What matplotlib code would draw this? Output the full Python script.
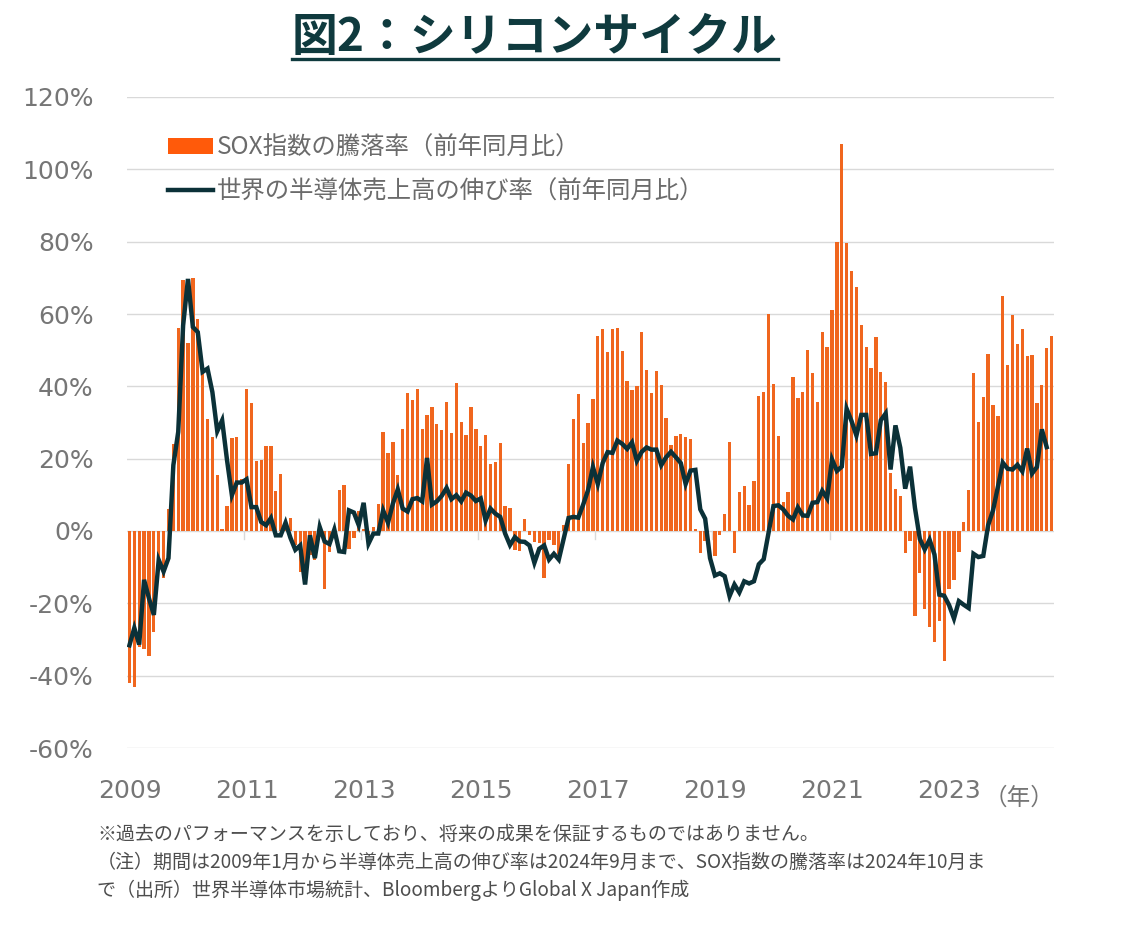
import numpy as np
import matplotlib
matplotlib.use("Agg")
import matplotlib.pyplot as plt
from matplotlib.patches import Patch
from matplotlib.lines import Line2D

plt.rcParams['font.family'] = ['Noto Sans CJK JP', 'DejaVu Sans']

# ---- data (monthly, Jan 2009 .. Oct 2024) ----
sox_yoy = [
    -42, -43, -32, -32.5, -34.5, -28, -11, -13, 6, 24, 56, 69.5,          # 2009
    52, 70, 58.7, 44, 31, 26, 15.6, 0.5, 7, 25.6, 26, 14.5,               # 2010
    39.4, 35.4, 19.4, 19.5, 23.6, 23.5, 11, 15.8, 0.6, 3.7, -4, -11.3,    # 2011
    -14, -6.7, -8, -1, -16, -5.8, 0.5, 11.2, 12.8, -5, -2, 5.5,           # 2012
    0.5, -1, 1, 7.6, 27.4, 21.7, 24.6, 15.6, 28.3, 38.2, 36.3, 39.2,      # 2013
    28.3, 32.2, 34.3, 29.7, 28, 35.7, 27.1, 40.9, 30.1, 26.5, 34.3, 28.3, # 2014
    23.4, 26.6, 18.5, 19.2, 24.4, 7, 6.3, -5.3, -5.6, 3.4, -1.2, -3,      # 2015
    -3.2, -13, -2.6, -4, -6.3, 1.6, 18.6, 31, 38, 24.4, 30, 36.6,         # 2016
    53.9, 55.8, 49.5, 55.8, 56.2, 49.7, 41.5, 38.9, 40.1, 54.9, 44.6, 38.2,  # 2017
    44.3, 40.5, 31.3, 23.8, 26.3, 26.8, 25.9, 25.5, 0.5, -6, -2.8, 0,     # 2018
    -7, -1, 4.8, 24.7, -6.2, 10.8, 12.5, 7.1, 13.9, 37.2, 38.3, 60,       # 2019
    40.6, 26.3, 8, 10.9, 42.7, 36.7, 38.3, 50.1, 43.8, 35.8, 54.9, 51,    # 2020
    61, 80, 107, 79.5, 72, 67.4, 56.9, 51, 45.2, 53.6, 44, 41.2,          # 2021
    16, 11.7, 9.7, -6, -2.7, -23.6, -11.7, -21.7, -26.5, -30.8, -25, -36, # 2022
    -16, -13.6, -5.8, 2.6, 11.4, 43.7, 30.1, 37, 49, 34.9, 31.8, 65,      # 2023
    45.9, 59.8, 51.8, 55.9, 48.3, 48.8, 35.5, 40.5, 50.6, 53.8,           # 2024 (to Oct)
]

semi_sales_yoy = [
    -31.6, -26.8, -31.4, -13.5, -18.6, -23.2, -8, -11.2, -7.5, 18.2, 27.4, 56.8,   # 2009
    69.7, 56.4, 55, 44, 44.9, 38.4, 27.6, 30.6, 19.6, 9.9, 13.4, 13.4,             # 2010
    14.3, 6.6, 6.6, 2.5, 1.6, 3.6, -1.2, -1.2, 2.3, -1.9, -5.2, -4,                # 2011
    -14.8, -1.2, -7.5, 1.1, -2.9, -3.6, 0.4, -5.6, -5.8, 5.7, 5.1, 1.6,            # 2012
    7.8, -3.5, -0.7, -0.7, 5.7, 2.3, 7.6, 11.5, 6.2, 5.4, 8.8, 9.1,                # 2013
    8.2, 20.2, 7.3, 8.2, 9.7, 11.9, 8.8, 9.9, 8.2, 10.6, 9.8, 8.3,                 # 2014
    9, 2.9, 6.2, 4.8, 3.9, -0.7, -3.9, -1.7, -2.9, -3, -4, -8.8,                   # 2015
    -4.9, -4, -7.9, -6.3, -7.9, -2.1, 3.6, 3.9, 3.7, 7.3, 11.3, 17.7,              # 2016
    13, 18.8, 21.8, 21.6, 25, 24.1, 22.7, 24.5, 19.4, 21.9, 23.1, 22.5,            # 2017
    22.5, 18.2, 20.4, 21.9, 20.4, 18.8, 13, 16.7, 16.9, 6, 3.4, -7.5,              # 2018
    -12.3, -11.7, -12.5, -18, -14.8, -17, -13.9, -14.5, -13.9, -9.2, -7.8, -0.5,   # 2019
    6.9, 7.1, 6, 4.2, 3.2, 6.5, 4.3, 4.2, 7.8, 8, 11.1, 9,                         # 2020
    19.8, 16.6, 17.8, 33.8, 30.4, 26.4, 32.1, 32.1, 21.3, 21.5, 30.6, 32.5,        # 2021
    17, 29.2, 23, 11.7, 17.8, 6.4, -2.2, -5.1, -2.4, -6.5, -17.6, -17.9,           # 2022
    -20.5, -24.2, -19.4, -20.4, -21.3, -6.3, -7.2, -6.9, 1.6, 5.7, 12.2, 18.9,     # 2023
    17.2, 17, 18.3, 16.5, 22.8, 15.9, 17.7, 28.1, 23.2,                            # 2024 (to Sep)
]

year_labels = ['2009', '2011', '2013', '2015', '2017', '2019', '2021', '2023']
y_ticks = [-60, -40, -20, 0, 20, 40, 60, 80, 100, 120]

legend_labels = ['SOX指数の騰落率（前年同月比）', '世界の半導体売上高の伸び率（前年同月比）']
title_text = '図2：シリコンサイクル'
notes = [
    '※過去のパフォーマンスを示しており、将来の成果を保証するものではありません。',
    '（注）期間は2009年1月から半導体売上高の伸び率は2024年9月まで、SOX指数の騰落率は2024年10月ま',
    'で（出所）世界半導体市場統計、BloombergよりGlobal X Japan作成',
]

# ---- styling ----
BAR_C = '#F0661E'
LINE_C = '#0B3138'
TITLE_C = '#0F3A3E'
GRID_C = '#D9D9D9'
TICK_C = '#767676'

W, H = 1141, 951
fig = plt.figure(figsize=(W / 100, H / 100), dpi=100)
ax = fig.add_axes([127 / W, 1 - 748 / H, (1054 - 127) / W, (748 - 97) / H])

x_bar = np.arange(len(sox_yoy))
x_line = np.arange(len(semi_sales_yoy))
ax.bar(x_bar, sox_yoy, width=0.68, color=BAR_C, zorder=2)
ax.plot(x_line, semi_sales_yoy, color=LINE_C, lw=3.2, zorder=3,
        solid_joinstyle='miter')

ax.set_xlim(-0.5, len(sox_yoy) - 0.5)
ax.set_ylim(-60, 120)
ax.set_yticks(y_ticks)
ax.set_yticklabels([f'{v}%' for v in y_ticks], family='DejaVu Sans',
                   fontsize=18, color=TICK_C)
ax.set_xticks(np.arange(len(year_labels)) * 24)
ax.set_xticklabels(year_labels, family='DejaVu Sans', fontsize=18, color=TICK_C)
ax.tick_params(axis='y', length=0, pad=24)
ax.tick_params(axis='x', length=0, pad=22)
for s in ax.spines.values():
    s.set_visible(False)
ax.grid(axis='y', color=GRID_C, lw=1)
ax.set_axisbelow(True)

# small tick marks on zero line at year boundaries
for k in range(1, len(year_labels)):
    ax.plot([24 * k - 0.5, 24 * k - 0.5], [0, -2.3], color=GRID_C, lw=1, zorder=1)

ax.text(1.0, -0.06, '（年）', transform=ax.transAxes, ha='right', va='top',
        fontsize=17, color=TICK_C)

handles = [Patch(facecolor='#FF5A0A', edgecolor='none'),
           Line2D([0], [0], color=LINE_C, lw=3.2)]
leg = ax.legend(handles, legend_labels, loc='upper left',
                bbox_to_anchor=(168 / W, 1 - 135 / H),
                bbox_transform=fig.transFigure, frameon=False, fontsize=17.6,
                handlelength=1.85, handleheight=0.63, handletextpad=0.15,
                labelspacing=0.72, borderpad=0, borderaxespad=0)
for t in leg.get_texts():
    t.set_color('#6B6B6B')

# title with underline
tt = fig.text(535 / W, 1 - 38 / H, title_text, ha='center', va='center',
              fontsize=33, fontweight='bold', color=TITLE_C)
fig.canvas.draw()
bb = tt.get_window_extent()
fig.add_artist(Line2D([bb.x0 / W, bb.x1 / W], [1 - 59 / H, 1 - 59 / H],
                      transform=fig.transFigure, color=TITLE_C, lw=2.4))

for k, s in enumerate(notes):
    fig.text(97 / W, 1 - (834 + 28 * k) / H, s, ha='left', va='center',
             fontsize=13.7, color='#4D4D4D')

fig.savefig('out.png', dpi=100, facecolor='white')
